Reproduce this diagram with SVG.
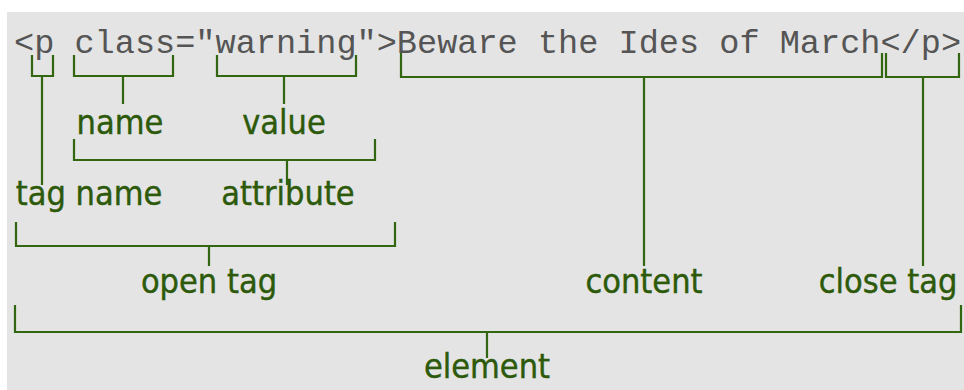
<svg xmlns="http://www.w3.org/2000/svg" width="964" height="390" viewBox="0 0 964 390">
<style>
.code{font-family:"Liberation Mono","Courier New",monospace;font-size:33.6px;fill:#555555}
.lbl{font-family:"DejaVu Sans Condensed","DejaVu Sans",sans-serif;font-stretch:condensed;font-size:34px;fill:#2d5a0a;stroke:#2d5a0a;stroke-width:0.4;text-anchor:middle}
.br{fill:none;stroke:#336610;stroke-width:2.2;stroke-linejoin:miter}
</style>
<rect x="0" y="0" width="964" height="390" fill="#ffffff"/>
<rect x="7" y="12" width="957" height="378" fill="#e4e4e4"/>
<g id="code"><text class="code" x="14" y="53">&lt;p class="warning"&gt;Beware the Ides of March&lt;/p&gt;</text></g>
<g id="connectors">
<path class="br" d="M32 55V76H53V55M42 76V185"/>
<path class="br" d="M74 55V76H173V55M123 76V104"/>
<path class="br" d="M217 55V76H356V55M284 76V104"/>
<path class="br" d="M74 139V160H375V139M287 160V185"/>
<path class="br" d="M16 222V246H395V222M209 246V266"/>
<path class="br" d="M401 53V77H882V53M644 77V266"/>
<path class="br" d="M886 53V77H959V53M923 77V266"/>
<path class="br" d="M15 305V332H961V305M487 332V358"/>
</g>
<g id="name"><text class="lbl" x="120" y="134">name</text></g>
<g id="value"><text class="lbl" x="284" y="134">value</text></g>
<g id="tagname"><text class="lbl" x="89" y="205">tag name</text></g>
<g id="attribute"><text class="lbl" x="288" y="205">attribute</text></g>
<g id="opentag"><text class="lbl" x="209" y="293">open tag</text></g>
<g id="content"><text class="lbl" x="644" y="293">content</text></g>
<g id="closetag"><text class="lbl" x="888" y="293">close tag</text></g>
<g id="element"><text class="lbl" x="487" y="378">element</text></g>
</svg>
